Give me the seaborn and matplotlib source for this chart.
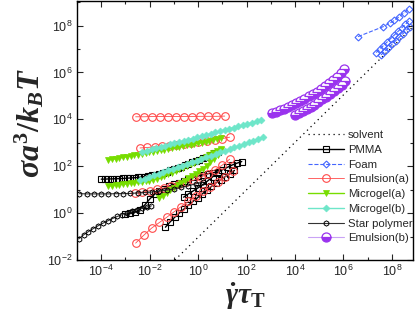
import numpy as np
import seaborn as sns
import matplotlib
matplotlib.use("Agg")
import matplotlib.pyplot as plt
from matplotlib.ticker import FixedLocator, NullFormatter

# values as log10 coordinates
solvent_x = [-0.96, 8.85]
solvent_y = [-2.0, 7.93]

pmma1_x = [-4.00, -3.85, -3.70, -3.55, -3.40, -3.25, -3.10, -2.95, -2.80, -2.65, -2.50,
           -2.35, -2.20, -2.05, -1.90, -1.75, -1.60, -1.45, -1.30, -1.15, -1.00, -0.85,
           -0.70, -0.55, -0.40, -0.25, -0.10, 0.05, 0.20, 0.35, 0.50, 0.65, 0.80]
pmma1_y = [1.45, 1.45, 1.46, 1.46, 1.47, 1.47, 1.48, 1.49, 1.50, 1.51, 1.52,
           1.54, 1.56, 1.58, 1.61, 1.64, 1.68, 1.72, 1.77, 1.82, 1.87, 1.92,
           1.98, 2.04, 2.10, 2.16, 2.22, 2.28, 2.34, 2.41, 2.48, 2.55, 2.62]
pmma2_x = [-3.0, -2.8, -2.6, -2.4, -2.2, -2.0, -1.8, -1.6, -1.4, -1.2, -1.0,
           -0.8, -0.6, -0.4, -0.2, 0.0, 0.2, 0.4, 0.6, 0.8]
pmma2_y = [-0.05, 0.0, 0.05, 0.15, 0.35, 0.6, 0.8, 0.95, 1.05, 1.15, 1.23,
           1.3, 1.38, 1.45, 1.52, 1.58, 1.64, 1.68, 1.72, 1.76]
pmma3_x = [-1.35, -1.16, -0.97, -0.78, -0.59, -0.40, -0.21, -0.02, 0.17, 0.36, 0.55,
           0.74, 0.93, 1.12, 1.31, 1.50]
pmma3_y = [-0.6, -0.38, -0.18, 0.0, 0.17, 0.34, 0.5, 0.66, 0.82, 0.98, 1.14,
           1.29, 1.43, 1.56, 1.69, 1.82]
pmma4_x = [-0.6, -0.4, -0.2, 0.0, 0.2, 0.4, 0.6, 0.8, 1.0, 1.2, 1.4, 1.6, 1.8]
pmma4_y = [0.68, 0.82, 0.95, 1.08, 1.22, 1.38, 1.55, 1.72, 1.85, 1.95, 2.05, 2.13, 2.2]

foam1_x = [6.6, 7.65, 7.9, 8.1, 8.3, 8.5, 8.7]
foam1_y = [7.53, 7.96, 8.1, 8.22, 8.38, 8.55, 8.72]
foam2_x = [7.35, 7.5, 7.65, 7.8, 7.95, 8.1, 8.25, 8.4, 8.55, 8.7]
foam2_y = [6.85, 7.0, 7.15, 7.3, 7.45, 7.6, 7.75, 7.9, 8.05, 8.2]
foam3_x = [7.55, 7.7, 7.85, 8.0, 8.15, 8.3, 8.45, 8.6, 8.75]
foam3_y = [6.75, 6.9, 7.05, 7.2, 7.35, 7.5, 7.65, 7.8, 7.95]

emua1_x = [-2.58, -2.25, -1.92, -1.58, -1.25, -0.92, -0.58, -0.25, 0.08, 0.42, 0.75, 1.1]
emua1_y = [4.11, 4.11, 4.12, 4.12, 4.12, 4.12, 4.12, 4.12, 4.13, 4.13, 4.13, 4.14]
emua2_x = [-2.4, -2.1, -1.8, -1.5, -1.2, -0.9, -0.6, -0.3, 0.0, 0.35, 0.7, 1.0, 1.3]
emua2_y = [2.78, 2.8, 2.83, 2.86, 2.88, 2.92, 2.95, 2.99, 3.03, 3.08, 3.13, 3.18, 3.24]
emua3_x = [-2.6, -2.3, -2.0, -1.7, -1.4, -1.1, -0.8, -0.5, -0.2, 0.1, 0.4, 0.7, 1.0, 1.3]
emua3_y = [0.85, 0.9, 0.96, 1.02, 1.08, 1.15, 1.23, 1.31, 1.4, 1.52, 1.68, 1.85, 2.05, 2.3]
emua4_x = [-2.58, -2.25, -1.92, -1.6, -1.3, -1.0, -0.7, -0.4, -0.1, 0.2, 0.5, 0.8, 1.1, 1.45]
emua4_y = [-1.28, -0.95, -0.64, -0.4, -0.18, 0.05, 0.28, 0.5, 0.72, 0.93, 1.12, 1.32, 1.55, 1.8]

mga_x = [-3.72, -3.57, -3.41, -3.26, -3.10, -2.95, -2.79, -2.64, -2.48, -2.33, -2.17,
         -2.02, -1.86, -1.71, -1.55, -1.40, -1.24, -1.09, -0.93, -0.78, -0.62, -0.47,
         -0.31, -0.16, 0.00, 0.15, 0.31, 0.46, 0.62, 0.77, 0.93]
mga1_y = [2.26, 2.29, 2.32, 2.35, 2.38, 2.41, 2.44, 2.47, 2.50, 2.53, 2.56,
          2.59, 2.62, 2.65, 2.68, 2.71, 2.74, 2.77, 2.80, 2.83, 2.86, 2.89,
          2.92, 2.95, 2.98, 3.01, 3.05, 3.09, 3.13, 3.17, 3.21]
mga2_y = [1.15, 1.17, 1.19, 1.21, 1.23, 1.25, 1.27, 1.29, 1.31, 1.33, 1.35,
          1.38, 1.42, 1.47, 1.53, 1.59, 1.66, 1.73, 1.80, 1.87, 1.94, 2.01,
          2.08, 2.15, 2.22, 2.30, 2.38, 2.46, 2.55, 2.64, 2.73]
mga3_x = [-1.6, -1.45, -1.3, -1.15, -1.0, -0.85, -0.7, -0.55, -0.4, -0.25, -0.1,
          0.05, 0.2, 0.35, 0.5, 0.65, 0.8, 0.93]
mga3_y = [0.64, 0.75, 0.86, 0.97, 1.08, 1.18, 1.28, 1.38, 1.48, 1.58, 1.68,
          1.78, 1.9, 2.02, 2.16, 2.32, 2.5, 2.7]

mgb1_x = [-2.30, -2.11, -1.92, -1.73, -1.55, -1.36, -1.17, -0.98, -0.79, -0.60, -0.42,
          -0.23, -0.04, 0.15, 0.34, 0.52, 0.71, 0.90, 1.09, 1.28, 1.47, 1.65,
          1.84, 2.03, 2.22, 2.41, 2.60]
mgb1_y = [2.62, 2.67, 2.72, 2.78, 2.83, 2.88, 2.93, 2.98, 3.03, 3.08, 3.13,
          3.18, 3.24, 3.29, 3.34, 3.39, 3.44, 3.49, 3.55, 3.60, 3.65, 3.70,
          3.75, 3.80, 3.86, 3.91, 3.96]
mgb2_x = [-2.40, -2.21, -2.01, -1.82, -1.62, -1.43, -1.23, -1.04, -0.84, -0.65, -0.45,
          -0.26, -0.06, 0.13, 0.33, 0.52, 0.72, 0.91, 1.11, 1.30, 1.50, 1.69,
          1.89, 2.08, 2.28, 2.47, 2.66]
mgb2_y = [1.40, 1.47, 1.54, 1.61, 1.68, 1.75, 1.82, 1.89, 1.96, 2.03, 2.10,
          2.17, 2.24, 2.31, 2.38, 2.45, 2.52, 2.59, 2.66, 2.73, 2.80, 2.87,
          2.94, 3.02, 3.09, 3.16, 3.23]

star1_x = [-4.9, -4.6, -4.3, -4.0, -3.7, -3.4, -3.1, -2.8, -2.5, -2.2, -1.9, -1.6,
           -1.3, -1.0, -0.7, -0.4, -0.1, 0.2]
star1_y = [0.83, 0.82, 0.82, 0.82, 0.82, 0.83, 0.83, 0.84, 0.86, 0.88, 0.9, 0.94,
           0.98, 1.03, 1.1, 1.17, 1.25, 1.33]
star2_x = [-4.93, -4.73, -4.53, -4.33, -4.13, -3.93, -3.73, -3.53, -3.33, -3.13,
           -2.93, -2.73, -2.53, -2.33, -2.13, -1.93]
star2_y = [-1.1, -0.93, -0.79, -0.66, -0.54, -0.43, -0.33, -0.23, -0.14, -0.06,
           0.02, 0.09, 0.15, 0.21, 0.26, 0.31]

emub1_x = [3.03, 3.2, 3.37, 3.54, 3.71, 3.88, 4.05, 4.22, 4.39, 4.56, 4.73, 4.9,
           5.07, 5.24, 5.41, 5.58, 5.75, 5.9, 6.03]
emub1_y = [4.26, 4.32, 4.38, 4.45, 4.52, 4.6, 4.68, 4.78, 4.88, 4.98, 5.08, 5.18,
           5.3, 5.42, 5.55, 5.68, 5.82, 5.97, 6.13]
emub2_x = [4.0, 4.16, 4.32, 4.48, 4.64, 4.8, 4.96, 5.12, 5.28, 5.44, 5.6, 5.76, 5.92, 6.05]
emub2_y = [4.19, 4.27, 4.35, 4.44, 4.53, 4.63, 4.74, 4.85, 4.97, 5.09, 5.22, 5.35, 5.48, 5.62]

x_major = [-4, -2, 0, 2, 4, 6, 8]
x_minor = [-5, -3, -1, 1, 3, 5, 7]
y_major = [-2, 0, 2, 4, 6, 8]
y_minor = [-1, 1, 3, 5, 7, 9]


def dec(v):
    return np.power(10.0, v)


sns.set_style("ticks")
plt.rcParams["font.family"] = ["Liberation Sans", "DejaVu Sans"]
plt.rcParams["mathtext.fontset"] = "custom"
plt.rcParams["mathtext.it"] = "Liberation Serif:italic:bold"
plt.rcParams["mathtext.rm"] = "Liberation Serif:bold"
plt.rcParams["mathtext.bf"] = "Liberation Serif:bold"

fig = plt.figure(figsize=(4.16, 3.28), dpi=100)
ax = fig.add_axes([77 / 416, 68 / 328, 336 / 416, 259 / 328])
ax.set_xscale("log")
ax.set_yscale("log")


def draw(xs, ys, label=None, **kw):
    sns.lineplot(x=dec(xs), y=dec(ys), ax=ax, estimator=None, sort=False,
                 label=label, **kw)


RED = "#ff4a4a"
GREEN = "#77dd00"
CYAN = "#6ee6c9"
PURPLE = "#9a33ee"
BLUE = "#4466ff"

draw(solvent_x, solvent_y, "solvent", color="black", lw=0.9, ls=(0, (1, 3)))

pm = dict(color="black", lw=1.0, marker="s", markersize=4.5, markerfacecolor="none",
          markeredgecolor="black", markeredgewidth=0.8)
draw(pmma1_x, pmma1_y, "PMMA", **pm)
draw(pmma2_x, pmma2_y, **pm)
draw(pmma3_x, pmma3_y, **pm)
draw(pmma4_x, pmma4_y, **pm)

fo = dict(color=BLUE, lw=0.8, ls="--", marker="D", markersize=3.5, markerfacecolor="none",
          markeredgecolor=BLUE, markeredgewidth=0.8)
draw(foam1_x, foam1_y, "Foam", **fo)
draw(foam2_x, foam2_y, **fo)
draw(foam3_x, foam3_y, **fo)

ea = dict(color=RED, lw=0.6, marker="o", markersize=5.5, markerfacecolor="none",
          markeredgecolor=RED, markeredgewidth=0.8)
draw(emua1_x, emua1_y, "Emulsion(a)", **ea)
draw(emua2_x, emua2_y, **ea)
draw(emua3_x, emua3_y, **ea)
draw(emua4_x, emua4_y, **ea)

ga = dict(color=GREEN, lw=1.0, marker="v", markersize=4, markerfacecolor=GREEN,
          markeredgecolor=GREEN, markeredgewidth=0.5)
draw(mga_x, mga1_y, "Microgel(a)", **ga)
draw(mga_x, mga2_y, **ga)
draw(mga3_x, mga3_y, **ga)

gb = dict(color=CYAN, lw=1.0, marker="D", markersize=3.5, markerfacecolor=CYAN,
          markeredgecolor=CYAN, markeredgewidth=0.5)
draw(mgb1_x, mgb1_y, "Microgel(b)", **gb)
draw(mgb2_x, mgb2_y, **gb)

st = dict(color="#333333", lw=0.8, marker="h", markersize=3.8, markerfacecolor="none",
          markeredgecolor="black", markeredgewidth=0.7)
draw(star1_x, star1_y, "Star polymer", **st)
draw(star2_x, star2_y, **st)

eb = dict(color="#c9a3f5", lw=0.8, marker="o", markersize=6.5, fillstyle="bottom",
          markerfacecolor=PURPLE, markerfacecoloralt="white",
          markeredgecolor=PURPLE, markeredgewidth=0.9)
draw(emub1_x, emub1_y, "Emulsion(b)", **eb)
draw(emub2_x, emub2_y, **eb)

ax.set_xlim(1e-5, dec(8.87))
ax.set_ylim(1e-2, dec(9.05))

ax.xaxis.set_major_locator(FixedLocator(dec(x_major)))
ax.xaxis.set_minor_locator(FixedLocator(dec(x_minor)))
ax.yaxis.set_major_locator(FixedLocator(dec(y_major)))
ax.yaxis.set_minor_locator(FixedLocator(dec(y_minor)))
ax.set_xticklabels([r"$\mathdefault{10^{%d}}$" % v for v in x_major])
ax.set_yticklabels([r"$\mathdefault{10^{%d}}$" % v for v in y_major])
ax.xaxis.set_minor_formatter(NullFormatter())
ax.yaxis.set_minor_formatter(NullFormatter())
ax.tick_params(which="both", direction="in", top=True, right=True, width=0.8,
               labelsize=9, pad=3)
ax.tick_params(which="major", length=4.5)
ax.tick_params(which="minor", length=2.5)
for s in ax.spines.values():
    s.set_linewidth(1.0)
    s.set_color("black")

ax.set_ylabel(r"$\sigma a^3/k_B T$", fontsize=23)
ax.set_xlabel(r"$\dot{\gamma}\tau_\mathrm{T}$", fontsize=21)
ax.yaxis.set_label_coords(-0.09, 0.53)
ax.xaxis.set_label_coords(0.5, -0.08)

handles, labels = ax.get_legend_handles_labels()
ax.legend(handles, labels, loc="upper left", bbox_to_anchor=(308 / 416, 1 - 130 / 328),
          bbox_transform=fig.transFigure, frameon=False, fontsize=8.2,
          handlelength=3.15, handletextpad=0.35, labelspacing=0.42,
          borderpad=0, borderaxespad=0)

fig.savefig("out.png", dpi=100)
